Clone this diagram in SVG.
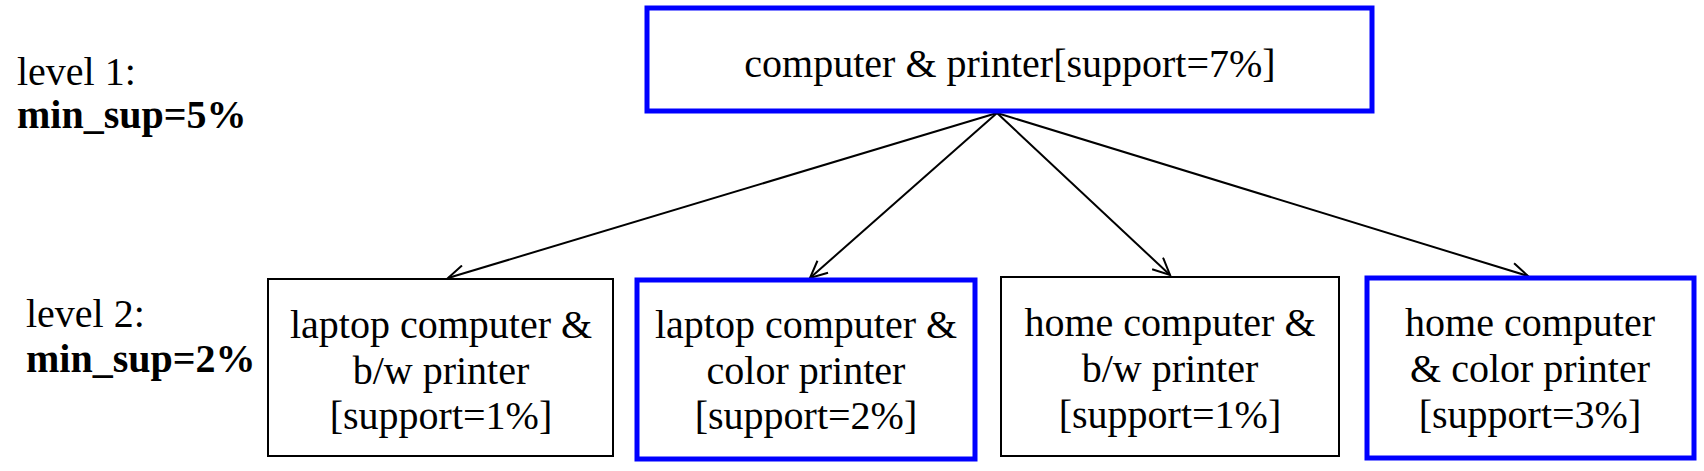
<svg xmlns="http://www.w3.org/2000/svg" width="1704" height="471" viewBox="0 0 1704 471">
<style>
text{font-family:"Liberation Serif","Times New Roman",serif;font-size:40px;fill:#000}
.c{text-anchor:middle}
.b{font-weight:bold}
.blue{fill:#fff;stroke:#0000ff;stroke-width:5}
.blk{fill:#fff;stroke:#000;stroke-width:2}
.edge{stroke:#000;stroke-width:2;fill:none;marker-end:url(#arr)}
</style>
<defs>
<marker id="arr" markerUnits="userSpaceOnUse" markerWidth="20" markerHeight="18" viewBox="0 0 20 18" refX="18" refY="9" orient="auto">
<path d="M1,1 L18,9 L1,17" fill="none" stroke="#000" stroke-width="2"/>
</marker>
</defs>
<rect width="1704" height="471" fill="#fff"/>
<g id="labels">
<text x="17" y="85">level 1:</text>
<text x="17" y="128" class="b">min_sup=5%</text>
<text x="26" y="327">level 2:</text>
<text x="26" y="372" class="b">min_sup=2%</text>
</g>
<g id="connectors">
<line class="edge" x1="997" y1="113" x2="448" y2="278"/>
<line class="edge" x1="997" y1="113" x2="810" y2="278"/>
<line class="edge" x1="997" y1="113" x2="1170" y2="275"/>
<line class="edge" x1="997" y1="113" x2="1528" y2="276"/>
</g>
<g id="root">
<rect class="blue" x="647" y="8" width="725" height="103"/>
<text class="c" x="1010" y="77">computer &amp; printer[support=7%]</text>
</g>
<g id="n1">
<rect class="blk" x="268" y="279" width="345" height="177"/>
<text class="c" x="441" y="338">laptop computer &amp;</text>
<text class="c" x="441" y="384">b/w printer</text>
<text class="c" x="441" y="429">[support=1%]</text>
</g>
<g id="n2">
<rect class="blue" x="637" y="280" width="338" height="179"/>
<text class="c" x="806" y="338">laptop computer &amp;</text>
<text class="c" x="806" y="384">color printer</text>
<text class="c" x="806" y="429">[support=2%]</text>
</g>
<g id="n3">
<rect class="blk" x="1001" y="277" width="338" height="179"/>
<text class="c" x="1170" y="336">home computer &amp;</text>
<text class="c" x="1170" y="382">b/w printer</text>
<text class="c" x="1170" y="428">[support=1%]</text>
</g>
<g id="n4">
<rect class="blue" x="1367" y="278" width="327" height="180"/>
<text class="c" x="1530" y="336">home computer</text>
<text class="c" x="1530" y="382">&amp; color printer</text>
<text class="c" x="1530" y="428">[support=3%]</text>
</g>
</svg>
